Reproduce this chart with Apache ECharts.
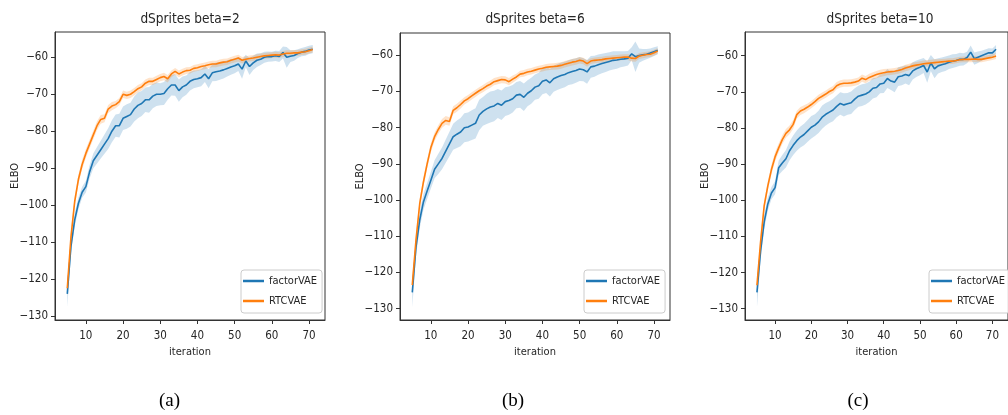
<!DOCTYPE html>
<html>
<head>
<meta charset="utf-8">
<script src="https://cdn.jsdelivr.net/npm/echarts@6/dist/echarts.min.js"></script>
<style>
html,body{margin:0;padding:0;background:#fff;}
#chart{width:1008px;height:415px;}
</style>
</head>
<body>
<div id="chart"></div>
<script>
// ---------------- DATA ----------------
const iterations = [5,6,7,8,9,10,11,12,13,14,15,16,17,18,19,20,21,22,23,24,25,26,27,28,29,30,31,32,33,34,35,36,37,38,39,40,41,42,43,44,45,46,47,48,49,50,51,52,53,54,55,56,57,58,59,60,61,62,63,64,65,66,67,68,69,70,71];
const yTicks = [-130,-120,-110,-100,-90,-80,-70,-60];
const xTicks = [10,20,30,40,50,60,70];
const panelTitles = ['dSprites beta=2','dSprites beta=6','dSprites beta=10'];
const captions = ['(a)','(b)','(c)'];
const seriesNames = ['factorVAE','RTCVAE'];
const xAxisName = 'iteration';
const yAxisName = 'ELBO';

// panel (a) beta=2
const a_factorVAE = [-124,-111,-104,-99.5,-96.5,-95,-91,-88,-86.5,-85,-83.5,-82,-80,-78.5,-78.5,-76.5,-76,-75.5,-74,-73,-72.5,-71.5,-71.5,-70.5,-70,-70,-69.8,-68.5,-67.5,-67.5,-69,-68,-67.5,-66.5,-66,-65.8,-65.5,-64.5,-65.8,-64.2,-63.9,-63.7,-63.4,-63,-62.6,-62.3,-61.8,-63.2,-61,-62.5,-61.5,-60.8,-60.5,-60,-59.8,-59.8,-59.6,-59.8,-58.7,-60,-59.7,-59.5,-59,-58.6,-58.4,-58,-57.8];
const a_factorVAE_sd = [3.5,2,1.8,1.6,1.5,1.6,1.8,2,2.2,2.4,2.6,2.8,3,3,3.2,3.2,3.3,3.2,3.4,3.5,3.4,3.3,3.5,3.3,3.2,3,3.1,3,2.8,2.9,3,2.8,2.6,2.5,2.4,2.3,2.3,2.2,2.6,2.3,2.5,2.4,2.3,2.2,2.1,2,1.9,2.6,1.7,2.3,1.9,1.8,1.6,1.5,1.4,1.3,1.4,1.5,1.6,2.8,1.6,1.4,1.2,1.1,1.2,1.1,1.1];
const a_RTCVAE = [-122.5,-108.5,-99,-93,-89,-86,-83.5,-81,-78.5,-76.8,-76.5,-74,-73.2,-72.8,-72,-70,-70.3,-70,-69.3,-68.5,-68,-67,-66.5,-66.5,-66,-65.5,-65.2,-65.8,-64.5,-63.8,-64.5,-64,-63.6,-63.5,-63,-62.8,-62.5,-62.3,-62,-61.8,-61.8,-61.5,-61.3,-61.2,-60.8,-60.5,-60.2,-60.8,-60.5,-60.3,-60.2,-60,-59.8,-59.6,-59.5,-59.4,-59.3,-59.4,-59.1,-58.9,-58.9,-58.8,-58.8,-58.6,-58.5,-58.2,-57.9];
const a_RTCVAE_sd = [2,1.5,1.4,1.3,1.3,1.2,1.2,1.2,1.2,1.2,1.1,1.1,1.1,1,1,1,1,1,1,1,1,1,1,1,1,1,1,1,0.9,0.9,0.9,0.9,0.9,0.9,0.9,0.9,0.9,0.9,0.9,0.9,0.9,0.9,0.9,0.9,0.9,0.9,0.9,0.9,0.8,0.8,0.8,0.8,0.8,0.8,0.8,0.8,0.8,0.8,0.8,0.8,0.8,0.8,0.8,0.8,0.8,0.8,0.8];

// panel (b) beta=6
const b_factorVAE = [-125.5,-113,-105.5,-100.5,-97.5,-94.5,-91.5,-90,-88.5,-86.5,-84.5,-82.5,-81.8,-81.2,-80,-79.8,-79.3,-78.8,-76.5,-75.5,-74.8,-74.3,-74,-73.3,-73.8,-72.8,-72.5,-72,-71,-70.8,-71.6,-70.5,-69.8,-68.8,-68.4,-67.2,-66.8,-67.6,-66.5,-66,-65.6,-65.3,-64.8,-64.5,-64.2,-63.8,-64,-64.6,-63.2,-63,-62.6,-62.3,-62,-61.7,-61.4,-61.3,-61.1,-61,-60.8,-59.6,-60.4,-60.1,-59.9,-59.7,-59.4,-59,-58.6];
const b_factorVAE_sd = [4,2.5,2.3,2.2,2.2,2.3,2.5,2.8,3,3.2,3.4,3.6,3.8,3.9,4,4,4.1,4.2,4.2,4,4.2,4.3,4.2,4,4.1,4,3.9,3.8,3.6,3.7,3.8,3.6,3.6,3.5,3.6,3.6,3.6,3.8,3.6,3.6,3.6,3.5,3.4,3.5,3.4,3.3,3.2,3.3,3,2.9,2.8,2.7,2.6,2.5,2.5,2.4,2.2,2.1,2,1.8,4.2,2,1.6,1.4,1.3,1.2,1.1];
const b_RTCVAE = [-123.5,-111,-101,-95,-90,-85.5,-82.5,-80.5,-78.8,-78,-78.3,-75.2,-74.5,-73.6,-72.6,-72,-71.2,-70.5,-69.8,-69.2,-68.5,-68,-67.3,-67,-66.7,-66.8,-67.3,-66.6,-66,-65.2,-65,-64.6,-64.4,-64.1,-63.8,-63.6,-63.3,-63.2,-63.1,-63,-62.8,-62.5,-62.2,-61.9,-61.7,-61.4,-61.6,-62.3,-61.6,-61.4,-61.3,-61.2,-61,-60.9,-60.8,-60.7,-60.6,-60.5,-60.5,-60.8,-60.9,-60.2,-60,-59.8,-59.7,-59.3,-58.8];
const b_RTCVAE_sd = [2,1.5,1.4,1.3,1.3,1.3,1.2,1.2,1.2,1.2,1.2,1.1,1.1,1.1,1,1,1,1,1,1,1,1,1,1,1,1,1,1,0.9,0.9,0.9,0.9,0.9,0.9,0.9,0.9,0.9,0.9,0.9,0.9,0.9,0.9,0.9,0.9,0.9,0.9,0.9,0.9,0.8,0.8,0.8,0.8,0.8,0.8,0.8,0.8,0.8,0.8,0.8,0.9,0.9,0.8,0.8,0.8,0.8,0.8,0.8];

// panel (c) beta=10
const c_factorVAE = [-125.5,-114,-106,-101,-98,-96.5,-91,-89.7,-88.5,-86.3,-84.8,-83.5,-82.5,-81.8,-80.8,-79.8,-79.2,-78.3,-77,-76.2,-75.6,-75,-74,-73.2,-73.6,-73.3,-73,-72,-71.2,-70.9,-70.6,-70,-69,-68.8,-67.8,-67.6,-66.3,-67,-67.3,-65.8,-65.6,-65.2,-65.5,-64.2,-63.6,-63.2,-62.7,-64.5,-62,-63.6,-62.8,-62.5,-62.2,-61.8,-61.5,-61.3,-61,-61,-60.5,-59,-60.8,-60.4,-60,-59.6,-59.2,-59.2,-58.2];
const c_factorVAE_sd = [4,2.5,2,1.8,1.7,1.8,2,2.2,2.4,2.6,2.7,2.8,2.9,3,3,3.1,3,3.1,3.2,3.1,3,3.1,3,3.1,3.2,3,3.1,3,2.9,3,2.9,2.8,2.8,2.7,2.6,2.7,2.6,2.5,2.8,2.6,2.6,2.5,2.7,2.4,2.3,2.2,2.1,3,2.2,2.6,2.1,2,2,1.9,1.9,1.8,1.8,1.7,1.6,1.8,1.7,1.6,1.4,1.3,1.3,1.2,1.15];
const c_RTCVAE = [-123.5,-111.5,-101.5,-96,-91.5,-88,-85.5,-83.2,-81.5,-80.5,-79,-76.3,-75.3,-74.8,-74.2,-73.5,-72.7,-71.8,-71.2,-70.6,-69.9,-69.4,-68.3,-67.8,-67.6,-67.6,-67.5,-67.3,-67,-66.2,-66.6,-66,-65.6,-65.2,-64.9,-64.7,-64.5,-64.4,-64.3,-64.1,-63.8,-63.4,-63.1,-62.8,-62.6,-62.4,-62.2,-62.1,-62,-61.9,-61.8,-61.7,-61.6,-61.5,-61.5,-61.3,-61.1,-61,-61,-61,-60.9,-61,-61,-60.8,-60.6,-60.4,-60.1];
const c_RTCVAE_sd = [2,1.5,1.4,1.3,1.3,1.3,1.2,1.2,1.2,1.2,1.2,1.1,1.1,1.1,1,1,1,1,1,1,1,1,1,1,1,1,1,1,1,1,1,1,1,1,1,1,0.9,0.9,0.9,0.9,0.9,0.9,0.9,0.9,0.9,0.9,0.9,0.9,0.9,0.9,0.8,0.8,0.8,0.8,0.8,0.8,0.8,0.8,0.8,0.8,0.8,0.8,0.8,0.8,0.8,0.8,0.8];

const panelMeans = [[a_factorVAE, a_RTCVAE],[b_factorVAE, b_RTCVAE],[c_factorVAE, c_RTCVAE]];
const panelSds = [[a_factorVAE_sd, a_RTCVAE_sd],[b_factorVAE_sd, b_RTCVAE_sd],[c_factorVAE_sd, c_RTCVAE_sd]];

// ---------------- LAYOUT / STYLE ----------------
const colors = ['#1f77b4','#ff7f0e'];
const bandColors = ['rgba(31,119,180,0.22)','rgba(255,127,14,0.22)'];
const FONT = "'DejaVu Sans Condensed', 'DejaVu Sans', sans-serif";
const TXT = '#262626';
const layout = [
  {left:55,  top:32, height:288, ymin:-131.08, ymax:-53.15, legendLeft:241, titleX:190, capX:169.5},
  {left:400, top:33, height:287, ymin:-133.12, ymax:-53.85, legendLeft:584, titleX:535, capX:513},
  {left:745, top:32, height:288, ymin:-133.13, ymax:-53.43, legendLeft:929, titleX:880, capX:858}
];
const PW = 270, XMIN = 1.7, XMAX = 74.3;
const minus = v => String(v).replace('-', '\u2212');

// band polygon drawn through the axes' own coordinate mapping
function bandRenderer(bandData, color) {
  return function (params, api) {
    if (params.dataIndex !== 0) return null;
    const upper = bandData.map(d => api.coord([d[0], d[2]]));
    const lower = bandData.map(d => api.coord([d[0], d[1]])).reverse();
    return {type:'polygon', shape:{points: upper.concat(lower)}, style:{fill:color}, silent:true};
  };
}

const grids = [], xAxes = [], yAxes = [], titles = [], legends = [], series = [];
layout.forEach((L, p) => {
  grids.push({left:L.left, top:L.top, width:PW, height:L.height, show:true,
    borderColor:'#333', borderWidth:1, backgroundColor:'transparent', containLabel:false});
  xAxes.push({type:'value', gridIndex:p, min:XMIN, max:XMAX,
    name:xAxisName, nameLocation:'middle', nameGap:27, nameMoveOverlap:false,
    nameTextStyle:{fontFamily:FONT, fontSize:11, color:TXT},
    axisLine:{show:true, onZero:false, lineStyle:{color:'#333', width:1}},
    axisTick:{show:true, length:4, customValues:xTicks, lineStyle:{color:'#333'}},
    axisLabel:{customValues:xTicks, margin:10, fontFamily:FONT, fontSize:11.5, color:TXT, formatter:minus},
    splitLine:{show:false}});
  yAxes.push({type:'value', gridIndex:p, min:L.ymin, max:L.ymax,
    name:yAxisName, nameLocation:'middle', nameGap:34, nameMoveOverlap:false,
    nameTextStyle:{fontFamily:FONT, fontSize:11, color:TXT},
    axisLine:{show:true, onZero:false, lineStyle:{color:'#333', width:1}},
    axisTick:{show:true, length:4, customValues:yTicks, lineStyle:{color:'#333'}},
    axisLabel:{customValues:yTicks, margin:7, fontFamily:FONT, fontSize:11.5, color:TXT, formatter:minus},
    splitLine:{show:false}});
  titles.push({text:panelTitles[p], left:L.titleX, top:12, textAlign:'center', padding:0,
    textStyle:{fontFamily:FONT, fontSize:13.5, fontWeight:'normal', color:TXT}});
  titles.push({text:captions[p], left:L.capX, top:392, textAlign:'center', padding:0,
    textStyle:{fontFamily:"'Liberation Serif', 'DejaVu Serif', serif", fontSize:19, fontWeight:'normal', color:'#000'}});
  legends.push({data:seriesNames.map(n => ({name:n})), orient:'vertical', left:L.legendLeft, top:270,
    icon:'rect', itemWidth:21, itemHeight:2.5, itemGap:8,
    padding:[5,5,6,2], backgroundColor:'rgba(255,255,255,0.85)', borderColor:'#ccc', borderWidth:1, borderRadius:3,
    textStyle:{fontFamily:FONT, fontSize:11, color:TXT, lineHeight:12}});

  // bands (fill_between mean - sd .. mean + sd)
  seriesNames.forEach((nm, s) => {
    const m = panelMeans[p][s], sd = panelSds[p][s];
    const bandData = iterations.map((x,i) => [x, m[i] - sd[i], m[i] + sd[i]]);
    series.push({type:'custom', name:nm + ' band', xAxisIndex:p, yAxisIndex:p,
      data: bandData, encode:{x:0, y:[1,2]}, renderItem: bandRenderer(bandData, bandColors[s]),
      silent:true, z:1, clip:true});
  });
  // mean lines
  seriesNames.forEach((nm, s) => {
    const m = panelMeans[p][s];
    series.push({type:'line', name:nm, xAxisIndex:p, yAxisIndex:p,
      data: iterations.map((x,i) => [x, m[i]]), symbol:'none', showSymbol:false,
      color:colors[s], itemStyle:{color:colors[s]}, lineStyle:{color:colors[s], width:1.6}, z:3 + s});
  });
});

const chart = echarts.init(document.getElementById('chart'), null, {renderer:'canvas'});
chart.setOption({
  animation:false,
  backgroundColor:'#fff',
  title:titles, legend:legends, grid:grids, xAxis:xAxes, yAxis:yAxes, series:series
});
</script>
</body>
</html>
